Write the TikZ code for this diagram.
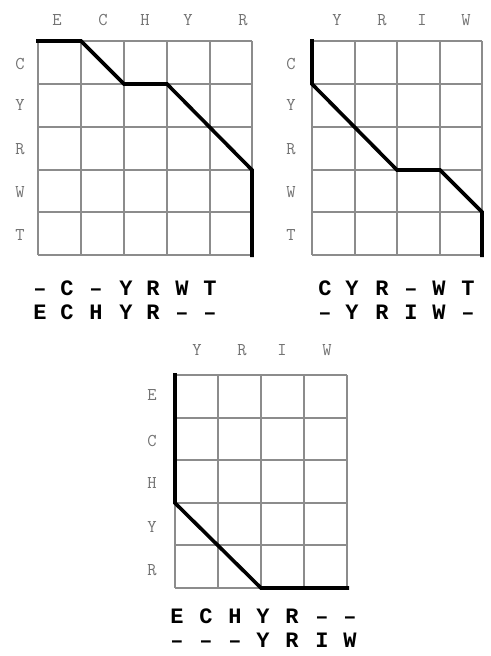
\documentclass[tikz,border=0pt]{standalone}
\usepackage{fontspec}
\newfontfamily\alnfont{Liberation Mono}
\newcommand{\gapmark}{\char"2013\relax}
\begin{document}
\begin{tikzpicture}[x=1pt,y=-1pt,
  gridline/.style={draw=black!45,line width=1.4pt},
  pathline/.style={draw=black,line width=3.6pt,line join=miter,line cap=butt},
  lbl/.style={inner sep=0pt,text=black!55,font=\ttfamily\fontsize{18}{18}\selectfont},
  aln/.style={inner sep=0pt,text height=14pt,text depth=0pt,text=black,font=\alnfont\bfseries\fontsize{22}{22}\selectfont}]
\useasboundingbox[fill=white] (0,0) rectangle (490,656);
% ---------- grid 1 ----------
\foreach \x in {38,81,124,167,210,252} \draw[gridline] (\x,41) -- (\x,255);
\foreach \y in {41,84,127,170,212,255} \draw[gridline] (38,\y) -- (252,\y);
\foreach \x/\c [count=\i] in {57/E,103/C,145/H,188/Y,243/R} \node[lbl] (ga\i) at (\x,20) {\c};
\foreach \y/\c [count=\i] in {64/C,105/Y,149/R,192/W,235/T} \node[lbl] (gb\i) at (20,\y) {\c};
\draw[pathline] (36,41) -- (81,41) -- (124,84) -- (167,84) -- (252,170) -- (252,257);
\foreach \x/\c [count=\i] in {40/\gapmark,67/C,96/\gapmark,126/Y,153/R,182/W,210/T} \node[aln] (ta\i) at (\x,288) {\c};
\foreach \x/\c [count=\i] in {40/E,67/C,96/H,126/Y,153/R,182/\gapmark,210/\gapmark} \node[aln] (tb\i) at (\x,312) {\c};
% ---------- grid 2 ----------
\foreach \x in {312,355,397,440,482} \draw[gridline] (\x,41) -- (\x,255);
\foreach \y in {41,84,127,170,212,255} \draw[gridline] (312,\y) -- (482,\y);
\foreach \x/\c [count=\i] in {337/Y,382/R,422/I,466/W} \node[lbl] (gc\i) at (\x,20) {\c};
\foreach \y/\c [count=\i] in {64/C,105/Y,149/R,192/W,235/T} \node[lbl] (gd\i) at (291,\y) {\c};
\draw[pathline] (312,39) -- (312,84) -- (397,170) -- (440,170) -- (482,212) -- (482,257);
\foreach \x/\c [count=\i] in {325/C,352/Y,382/R,411/\gapmark,439/W,468/T} \node[aln] (tc\i) at (\x,288) {\c};
\foreach \x/\c [count=\i] in {325/\gapmark,352/Y,382/R,411/I,439/W,468/\gapmark} \node[aln] (td\i) at (\x,312) {\c};
% ---------- grid 3 ----------
\foreach \x in {175,218,261,304,347} \draw[gridline] (\x,375) -- (\x,588);
\foreach \y in {375,418,460,503,545,588} \draw[gridline] (175,\y) -- (347,\y);
\foreach \x/\c [count=\i] in {197/Y,242/R,282/I,327/W} \node[lbl] (ge\i) at (\x,350) {\c};
\foreach \y/\c [count=\i] in {395/E,441/C,483/H,527/Y,570/R} \node[lbl] (gf\i) at (152,\y) {\c};
\draw[pathline] (175,373) -- (175,503) -- (261,588) -- (349,588);
\foreach \x/\c [count=\i] in {177/E,206/C,235/H,263/Y,292/R,322/\gapmark,350/\gapmark} \node[aln] (te\i) at (\x,616) {\c};
\foreach \x/\c [count=\i] in {177/\gapmark,206/\gapmark,235/\gapmark,263/Y,292/R,322/I,350/W} \node[aln] (tf\i) at (\x,640) {\c};
\end{tikzpicture}
\end{document}
